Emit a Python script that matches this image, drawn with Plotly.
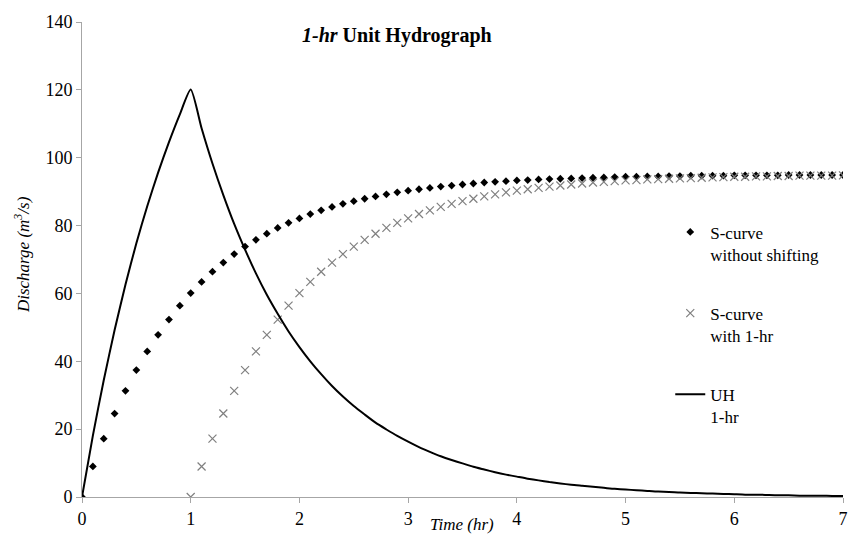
import plotly.graph_objects as go

time_hr = [round(i * 0.1, 1) for i in range(71)]

s_curve = [0.0, 9.0, 17.2, 24.6, 31.3, 37.4, 42.9, 47.8, 52.3, 56.4, 60.1,
           63.4, 66.4, 69.1, 71.6, 73.8, 75.8, 77.6, 79.3, 80.8, 82.1,
           83.4, 84.5, 85.5, 86.4, 87.2, 87.9, 88.6, 89.2, 89.8, 90.3,
           90.7, 91.1, 91.5, 91.8, 92.1, 92.4, 92.7, 92.9, 93.1, 93.3,
           93.4, 93.6, 93.7, 93.8, 93.9, 94.0, 94.1, 94.2, 94.3, 94.4,
           94.4, 94.5, 94.5, 94.6, 94.6, 94.7, 94.7, 94.7, 94.7, 94.8,
           94.8, 94.8, 94.8, 94.8, 94.9, 94.9, 94.9, 94.9, 94.9, 94.9]

time_shift = [round(1 + i * 0.1, 1) for i in range(61)]
s_curve_shift = [0.0, 9.0, 17.2, 24.6, 31.3, 37.4, 42.9, 47.8, 52.3, 56.4, 60.1,
                 63.4, 66.4, 69.1, 71.6, 73.8, 75.8, 77.6, 79.3, 80.8, 82.1,
                 83.4, 84.5, 85.5, 86.4, 87.2, 87.9, 88.6, 89.2, 89.8, 90.3,
                 90.7, 91.1, 91.5, 91.8, 92.1, 92.4, 92.7, 92.9, 93.1, 93.3,
                 93.4, 93.6, 93.7, 93.8, 93.9, 94.0, 94.1, 94.2, 94.3, 94.4,
                 94.4, 94.5, 94.5, 94.6, 94.6, 94.7, 94.7, 94.7, 94.7, 94.8]

uh_1hr = [0.0, 18.1, 34.4, 49.2, 62.6, 74.8, 85.7, 95.6, 104.6, 112.8, 120.1,
          108.7, 98.3, 89.0, 80.5, 72.9, 65.9, 59.6, 54.0, 48.8, 44.2,
          40.0, 36.2, 32.7, 29.6, 26.8, 24.3, 21.9, 19.9, 18.0, 16.3,
          14.7, 13.3, 12.0, 10.9, 9.9, 8.9, 8.1, 7.3, 6.6, 6.0,
          5.4, 4.9, 4.4, 4.0, 3.6, 3.3, 3.0, 2.7, 2.4, 2.2,
          2.0, 1.8, 1.6, 1.5, 1.3, 1.2, 1.1, 1.0, 0.9, 0.8,
          0.7, 0.7, 0.6, 0.5, 0.5, 0.4, 0.4, 0.4, 0.3, 0.3]

x_ticks = [0, 1, 2, 3, 4, 5, 6, 7]
y_ticks = [0, 20, 40, 60, 80, 100, 120, 140]

FONT = "Liberation Serif"

fig = go.Figure()
fig.add_trace(go.Scatter(
    x=time_hr, y=s_curve, mode="markers", name="S-curve<br>without shifting",
    legendgroup="a",
    marker=dict(symbol="diamond", size=6, color="black"),
))
fig.add_trace(go.Scatter(
    x=time_shift, y=s_curve_shift, mode="markers", name="S-curve<br>with 1-hr",
    legendgroup="b",
    marker=dict(symbol="x-thin", size=8, color="#7f7f7f",
                line=dict(color="#7f7f7f", width=1.2)),
))
fig.add_trace(go.Scatter(
    x=time_hr, y=uh_1hr, mode="lines", name="UH<br>1-hr",
    legendgroup="c",
    line=dict(color="black", width=2, shape="spline", smoothing=0.6),
))

axis_common = dict(
    showgrid=False, zeroline=False, showline=True, linecolor="#a6a6a6",
    linewidth=1, ticks="outside", tickcolor="#a6a6a6", ticklen=5,
    tickfont=dict(family=FONT, size=18, color="black"),
)

fig.update_layout(
    width=861, height=545,
    margin=dict(l=82, r=18, t=18, b=48),
    paper_bgcolor="white", plot_bgcolor="white",
    font=dict(family=FONT, size=17, color="black"),
    xaxis=dict(range=[0, 7], tickvals=x_ticks, **axis_common),
    yaxis=dict(range=[0, 140], tickvals=y_ticks, **axis_common),
    showlegend=True,
    legend=dict(
        x=0.773, y=0.595, xanchor="left", yanchor="top",
        valign="top", tracegroupgap=34,
        font=dict(family=FONT, size=17, color="black"),
        bgcolor="rgba(0,0,0,0)",
    ),
    annotations=[
        dict(text="<b><i>1-hr</i> Unit Hydrograph</b>", x=397, y=32,
             showarrow=False, font=dict(family=FONT, size=20)),
        dict(text="<i>Discharge (m<sup>3</sup>/s)</i>", x=22, y=253,
             textangle=-90, showarrow=False,
             font=dict(family=FONT, size=17)),
        dict(text="<i>Time (hr)</i>", x=462, y=525, showarrow=False,
             font=dict(family=FONT, size=17)),
    ],
)

# convert pixel-positioned annotations to paper coords
pl, pr, pt, pb = 82, 861 - 18, 18, 545 - 48
anns = []
for a in fig.layout.annotations:
    a = a.to_plotly_json()
    a["xref"] = "paper"
    a["yref"] = "paper"
    a["xanchor"] = "center"
    a["yanchor"] = "middle"
    a["x"] = (a["x"] - pl) / (pr - pl)
    a["y"] = (pb - a["y"]) / (pb - pt)
    anns.append(a)
fig.layout.annotations = anns

fig.write_html("out.html")
